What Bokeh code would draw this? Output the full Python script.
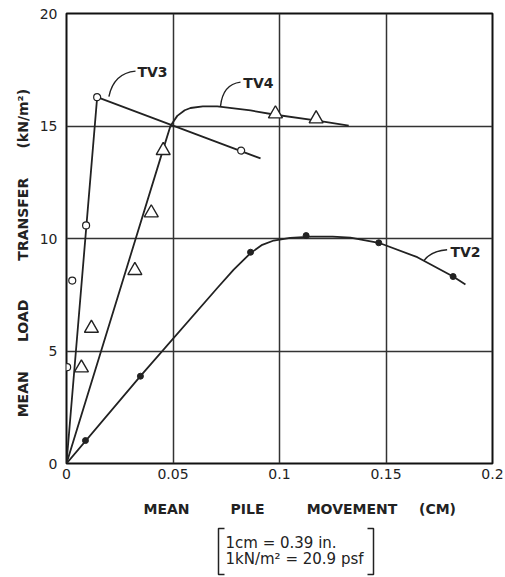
import numpy as np
from bokeh.plotting import figure
from bokeh.layouts import column
from bokeh.models import FixedTicker, Range1d
from bokeh.core.properties import value
from bokeh.embed import file_html
from bokeh.resources import INLINE

# ---------------- data ----------------
# TV3: open circles
tv3_x = [0.0003, 0.0027, 0.0092, 0.0144, 0.0820]
tv3_y = [4.28, 8.13, 10.58, 16.28, 13.91]
tv3_line_x = [0.0, 0.0144, 0.0911]
tv3_line_y = [0.0, 16.28, 13.56]

# TV4: open triangles
tv4_x = [0.0070, 0.0117, 0.0321, 0.0398, 0.0454, 0.0981, 0.1172]
tv4_y = [4.25, 6.01, 8.58, 11.14, 13.91, 15.54, 15.32]
tv4_line_x = [0.0, 0.046, 0.0488, 0.052, 0.0555, 0.0582, 0.064, 0.0708, 0.0864, 0.0981, 0.1177, 0.1325]
tv4_line_y = [0.0, 14.15, 15.0, 15.45, 15.7, 15.8, 15.87, 15.87, 15.69, 15.5, 15.24, 15.02]

# TV2: filled circles
tv2_x = [0.0089, 0.0347, 0.0864, 0.1125, 0.1466, 0.1815]
tv2_y = [1.02, 3.88, 9.39, 10.13, 9.81, 8.31]
tv2_line_x = [0.0, 0.0347, 0.0708, 0.0785, 0.0864, 0.0919, 0.0973, 0.105, 0.115, 0.125,
              0.1333, 0.1466, 0.1647, 0.1815, 0.1873]
tv2_line_y = [0.0, 3.88, 7.80, 8.62, 9.35, 9.72, 9.91, 10.03, 10.08, 10.08,
              10.04, 9.81, 9.17, 8.31, 7.96]

series_names = ["TV3", "TV4", "TV2"]
name_x = [0.0404, 0.0901, 0.1873]
name_y = [17.38, 16.93, 9.38]

x_ticks = [0, 0.05, 0.1, 0.15, 0.2]
x_tick_labels = ["0", "0.05", "0.1", "0.15", "0.2"]
y_ticks = [0, 5, 10, 15, 20]
y_tick_labels = ["0", "5", "10", "15", "20"]

x_title_words = ["MEAN", "PILE", "MOVEMENT", "(CM)"]
y_title_words = ["MEAN", "LOAD", "TRANSFER", "(kN/m\u00b2)"]
note_lines = ["1cm = 0.39 in.", "1kN/m\u00b2 = 20.9 psf"]

INK = "#222222"
FONT = "DejaVu Sans"
NB = "\u00a0"

# ---------------- main chart ----------------
p = figure(width=505, height=490, x_range=Range1d(0, 0.2), y_range=Range1d(0, 20),
           output_backend="svg", toolbar_location=None,
           min_border_left=66, min_border_right=13, min_border_top=13, min_border_bottom=27)
p.background_fill_color = "white"
p.border_fill_color = "white"
p.outline_line_color = "#111111"
p.outline_line_width = 2

p.xaxis.ticker = FixedTicker(ticks=x_ticks)
p.yaxis.ticker = FixedTicker(ticks=y_ticks)
p.xaxis.major_label_overrides = {t: l for t, l in zip(x_ticks, x_tick_labels)}
p.yaxis.major_label_overrides = {t: l for t, l in zip(y_ticks, y_tick_labels)}
for ax in (p.xaxis, p.yaxis):
    ax.axis_line_color = None
    ax.major_tick_line_color = None
    ax.minor_tick_line_color = None
    ax.major_tick_out = 0
    ax.major_tick_in = 0
    ax.major_label_text_font = FONT
    ax.major_label_text_font_size = "14px"
    ax.major_label_text_color = INK
p.xaxis.major_label_standoff = 5
p.yaxis.major_label_standoff = 9

# y title: words spread along the axis as in the original lettering
p.yaxis.axis_label = (NB * 6).join([y_title_words[0], y_title_words[1]]) + NB * 8 + \
    y_title_words[2] + NB * 6 + y_title_words[3] + NB * 6
p.yaxis.axis_label_text_font = FONT
p.yaxis.axis_label_text_font_style = "bold"
p.yaxis.axis_label_text_font_size = "14px"
p.yaxis.axis_label_text_color = INK
p.yaxis.axis_label_standoff = 6

p.xgrid.ticker = FixedTicker(ticks=x_ticks)
p.ygrid.ticker = FixedTicker(ticks=y_ticks)
for g in (p.xgrid, p.ygrid):
    g.grid_line_color = "#333333"
    g.grid_line_width = 1.5
    g.grid_line_alpha = 1.0

p.line(tv3_line_x, tv3_line_y, line_color=INK, line_width=1.8)
p.line(tv4_line_x, tv4_line_y, line_color=INK, line_width=1.8)
p.line(tv2_line_x, tv2_line_y, line_color=INK, line_width=1.8)

p.scatter(tv3_x, tv3_y, marker="circle", size=7, fill_color="white", line_color=INK, line_width=1.2)
p.scatter(tv4_x, tv4_y, marker="triangle", size=14, fill_color="white", line_color=INK, line_width=1.4)
p.scatter(tv2_x, tv2_y, marker="circle", size=6, fill_color=INK, line_color=INK, line_width=1)

p.quadratic(x0=[0.0199, 0.0723, 0.1678], y0=[16.31, 15.87, 9.02],
            x1=[0.0324, 0.0817, 0.1787], y1=[17.44, 16.95, 9.50],
            cx=[0.0222, 0.0733, 0.1712], cy=[17.35, 16.85, 9.45],
            line_color=INK, line_width=1.4)
p.text(x=name_x, y=name_y, text=series_names, text_font=value(FONT), text_font_style="bold",
       text_font_size="14px", text_align="center", text_baseline="middle", text_color=INK)

# ---------------- strip below: x title and unit note ----------------
# the column aligns this strip's frame with the chart frame (page x 66..492)
q = figure(width=505, height=87, x_range=Range1d(66, 492), y_range=Range1d(87, 0),
           output_backend="svg", toolbar_location=None, x_axis_type=None, y_axis_type=None,
           min_border=0)
q.outline_line_color = None
q.xgrid.visible = False
q.ygrid.visible = False
q.background_fill_color = "white"
q.border_fill_color = "white"

q.text(x=[166, 247, 351.5, 437], y=[18, 18, 18, 18], text=x_title_words,
       text_font=value(FONT), text_font_style="bold", text_font_size="14px",
       text_align="center", text_baseline="middle", text_color=INK)
q.text(x=[225, 225], y=[52, 68], text=note_lines, text_font=value(FONT),
       text_font_size="15px", text_align="left", text_baseline="middle", text_color=INK)
q.multi_line(xs=[[224, 218, 218, 224], [367, 373, 373, 367]],
             ys=[[38, 38, 84, 84], [38, 38, 84, 84]],
             line_color=INK, line_width=1.5)

layout = column(p, q, spacing=0)
open("out.html", "w").write(file_html(layout, INLINE))
